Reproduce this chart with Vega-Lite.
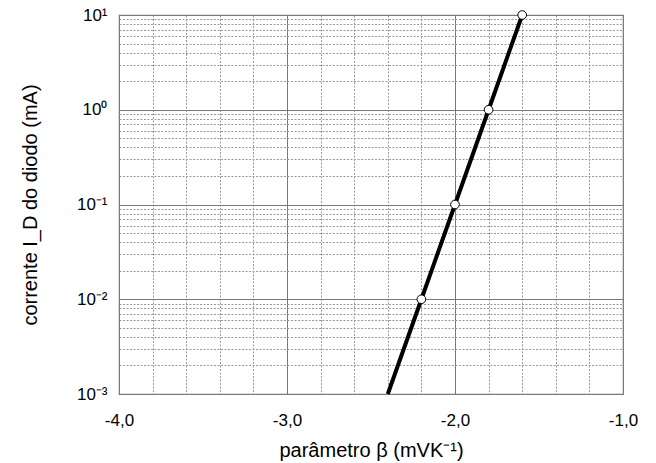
{
  "$schema": "https://vega.github.io/schema/vega-lite/v6.json",
  "width": 504,
  "height": 379,
  "autosize": "none",
  "padding": {"left": 119, "top": 15, "right": 33, "bottom": 69},
  "config": {
    "view": {"stroke": "#808080", "strokeWidth": 1.2},
    "font": "Liberation Sans"
  },
  "data": {
    "values": [
      {"beta": -2.4, "id": 0.001, "marker": false},
      {"beta": -2.2, "id": 0.01, "marker": true},
      {"beta": -2.0, "id": 0.1, "marker": true},
      {"beta": -1.8, "id": 1, "marker": true},
      {"beta": -1.6, "id": 10, "marker": true}
    ]
  },
  "encoding": {
    "x": {
      "field": "beta",
      "type": "quantitative",
      "scale": {"domain": [-4, -1], "nice": false, "zero": false},
      "axis": {
        "title": "parâmetro β (mVK⁻¹)",
        "titleFont": "Liberation Sans",
        "titleFontSize": 20,
        "titleFontWeight": "normal",
        "titleColor": "black",
        "titlePadding": 12,
        "values": [-4, -3.8, -3.6, -3.4, -3.2, -3, -2.8, -2.6, -2.4, -2.2, -2, -1.8, -1.6, -1.4, -1.2, -1],
        "labelExpr": "abs(datum.value - round(datum.value)) < 0.001 ? (round(datum.value) + ',0') : ''",
        "labelOverlap": false,
        "labelBound": false,
        "labelFlush": false,
        "labelFontSize": 17,
        "labelColor": "black",
        "labelPadding": 18,
        "ticks": false,
        "domain": false,
        "grid": true,
        "gridColor": {"condition": {"test": "abs(datum.value - round(datum.value)) < 0.001", "value": "#7a7a7a"}, "value": "#9a9a9a"},
        "gridDash": {"condition": {"test": "abs(datum.value - round(datum.value)) < 0.001", "value": []}, "value": [2, 1.5]},
        "gridWidth": 1,
        "gridOpacity": 1
      }
    },
    "y": {
      "field": "id",
      "type": "quantitative",
      "scale": {"type": "log", "domain": [0.001, 10], "nice": false},
      "axis": {
        "title": "corrente I_D do diodo (mA)",
        "titleFont": "Liberation Sans",
        "titleFontSize": 20,
        "titleFontWeight": "normal",
        "titleColor": "black",
        "titlePadding": 36,
        "values": [0.001, 0.002, 0.003, 0.004, 0.005, 0.006, 0.007, 0.008, 0.009, 0.01, 0.02, 0.03, 0.04, 0.05, 0.06, 0.07, 0.08, 0.09, 0.1, 0.2, 0.3, 0.4, 0.5, 0.6, 0.7, 0.8, 0.9, 1, 2, 3, 4, 5, 6, 7, 8, 9, 10],
        "labelExpr": "datum.value > 9.9 && datum.value < 10.1 ? '10¹' : datum.value > 0.99 && datum.value < 1.01 ? '10⁰' : datum.value > 0.099 && datum.value < 0.101 ? '10⁻¹' : datum.value > 0.0099 && datum.value < 0.0101 ? '10⁻²' : datum.value > 0.00099 && datum.value < 0.00101 ? '10⁻³' : ''",
        "labelOverlap": false,
        "labelBound": false,
        "labelFlush": false,
        "labelFontSize": 17,
        "labelColor": "black",
        "labelPadding": 12,
        "ticks": false,
        "domain": false,
        "grid": true,
        "gridColor": {"condition": {"test": "abs(log(datum.value)/LN10 - round(log(datum.value)/LN10)) < 0.001", "value": "#7a7a7a"}, "value": "#9a9a9a"},
        "gridDash": {"condition": {"test": "abs(log(datum.value)/LN10 - round(log(datum.value)/LN10)) < 0.001", "value": []}, "value": [2, 1.5]},
        "gridWidth": 1,
        "gridOpacity": 1
      }
    }
  },
  "layer": [
    {
      "mark": {"type": "line", "color": "black", "strokeWidth": 4, "clip": false}
    },
    {
      "transform": [{"filter": "datum.marker"}],
      "mark": {"type": "point", "shape": "circle", "filled": true, "fill": "white", "stroke": "black", "strokeWidth": 1, "size": 75, "opacity": 1, "clip": false}
    }
  ]
}
